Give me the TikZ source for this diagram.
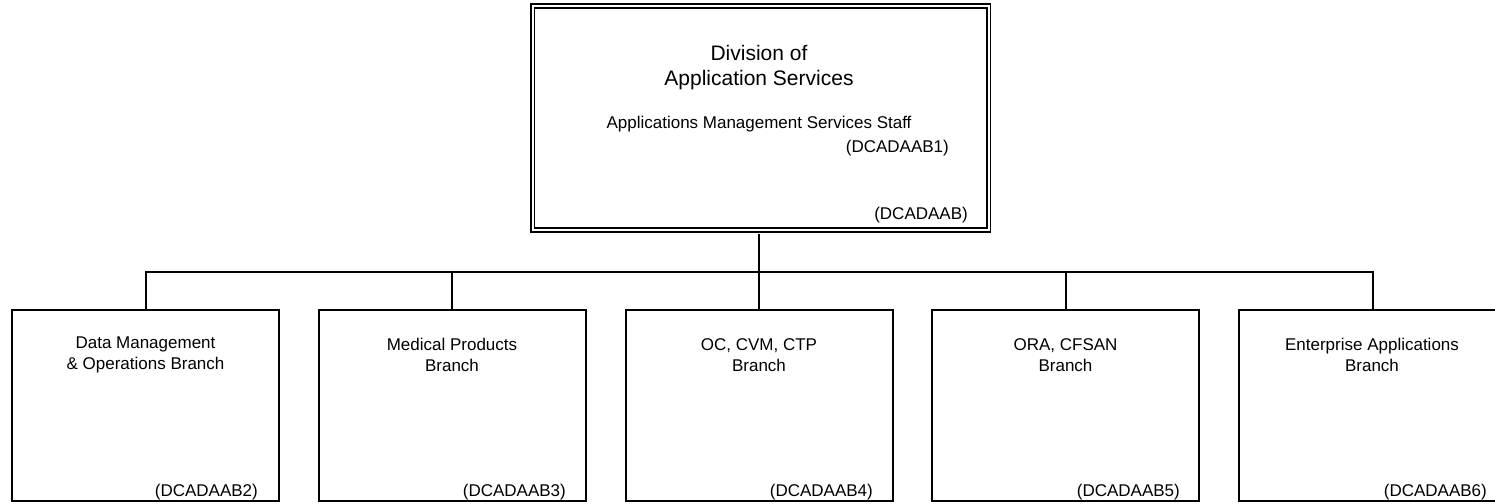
\documentclass[tikz,border=0pt]{standalone}
\usepackage{fontspec}
\setmainfont{Liberation Sans}
\begin{document}
\begin{tikzpicture}[x=1pt,y=-1pt,
  box/.style={draw, line width=2pt, minimum width=267pt, minimum height=191pt, inner sep=0pt},
  topbox/.style={draw, line width=1.8pt, double, double distance=2pt, minimum width=456pt, minimum height=224pt, inner sep=0pt},
  title/.style={font=\fontsize{21}{25}\selectfont, align=center, inner sep=0pt},
  lbl/.style={font=\fontsize{17}{21}\selectfont, align=center, inner sep=0pt},
  code/.style={font=\fontsize{17}{21}\selectfont, inner sep=0pt, anchor=east},
  conn/.style={line width=2pt}]
\useasboundingbox (0,0) rectangle (1495,503);
\fill[white] (0,0) rectangle (1495,503);
% top box
\node[topbox] (top) at (760.5,118) {};
\node[title] (tt) at (759,68) {Division of\\Application Services};
\node[lbl] (staff) at (759,124) {Applications Management Services Staff};
\node[code] (c1) at (949,148) {(DCADAAB1)};
\node[code] (c0) at (968,215) {(DCADAAB)};
% bottom boxes
\node[box] (b1) at (145.5,405.5) {};
\node[box] (b2) at (452,405.5) {};
\node[box] (b3) at (759,405.5) {};
\node[box] (b4) at (1065.5,405.5) {};
\node[box] (b5) at (1372.5,405.5) {};
\node[lbl] (l1) at (145.5,355) {Data Management\\\& Operations Branch};
\node[lbl] (l2) at (452,355) {Medical Products\\Branch};
\node[lbl] (l3) at (759,355) {OC, CVM, CTP\\Branch};
\node[lbl] (l4) at (1065.5,355) {ORA, CFSAN\\Branch};
\node[lbl] (l5) at (1372,355) {Enterprise Applications\\Branch};
\node[code] (d1) at (258,492) {(DCADAAB2)};
\node[code] (d2) at (566,492) {(DCADAAB3)};
\node[code] (d3) at (873,492) {(DCADAAB4)};
\node[code] (d4) at (1180,492) {(DCADAAB5)};
\node[code] (d5) at (1487,492) {(DCADAAB6)};
% connectors
\coordinate (bus) at (759,272);
\draw[conn] ([yshift=-2.8pt]top.south -| bus) -- (bus);
\draw[conn] (b1.north) -- (b1.north |- bus) -- (b5.north |- bus) -- (b5.north);
\draw[conn] (b2.north) -- (b2.north |- bus);
\draw[conn] (b3.north) -- (b3.north |- bus);
\draw[conn] (b4.north) -- (b4.north |- bus);
\end{tikzpicture}
\end{document}
